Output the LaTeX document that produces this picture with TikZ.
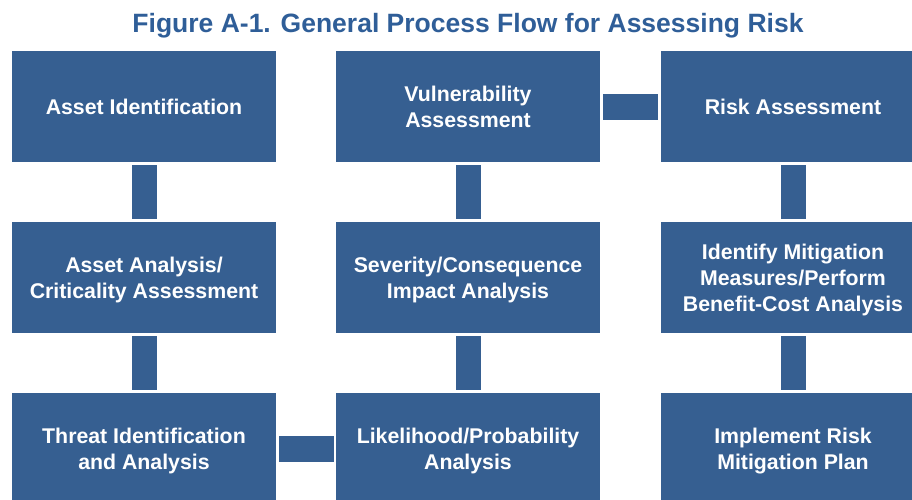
\documentclass[tikz,border=0pt]{standalone}
\usepackage{fontspec}
\setmainfont{Liberation Sans}
\definecolor{boxblue}{HTML}{365F91}
\definecolor{titleblue}{HTML}{2F5E98}
\newcommand\mylowstrut{\rule{0pt}{21pt}}
\begin{document}
\begin{tikzpicture}[x=1pt,y=-1pt,
  stepbox/.style={fill=boxblue,draw=none,minimum width=264pt,minimum height=111pt,
    inner sep=0pt,anchor=center,align=center,text=white,
    font=\bfseries\fontsize{21.3}{26}\selectfont},
  vlink/.style={draw=boxblue,line width=25pt,line cap=butt},
  hlink/.style={draw=boxblue,line width=26pt,line cap=butt}]
\useasboundingbox (0,0) rectangle (912,499);
\clip (0,0) rectangle (912,499);
\node[text=titleblue,font=\bfseries\fontsize{26.5}{30}\selectfont,anchor=center] (title) at (468,25.5) {Figure A-1. General Process Flow for Assessing Risk};
% column 1
\node[stepbox] (a1) at (144,106.5) {Asset Identification};
\node[stepbox] (a2) at (144,277.5) {\mylowstrut Asset Analysis/\\Criticality Assessment};
\node[stepbox] (a3) at (144,448.5) {\mylowstrut Threat Identification\\and Analysis};
% column 2
\node[stepbox] (b1) at (468,106.5) {Vulnerability\\Assessment};
\node[stepbox] (b2) at (468,277.5) {\mylowstrut Severity/Consequence\\Impact Analysis};
\node[stepbox] (b3) at (468,448.5) {\mylowstrut Likelihood/Probability\\Analysis};
% column 3
\node[stepbox] (c1) at (793,106.5) {Risk Assessment};
\node[stepbox] (c2) at (793,277.5) {\mylowstrut Identify Mitigation\\Measures/Perform\\Benefit-Cost Analysis};
\node[stepbox] (c3) at (793,448.5) {\mylowstrut Implement Risk\\Mitigation Plan};
% connectors
\draw[vlink] ([yshift=-3pt]a1.south) -- ([yshift=3pt]a2.north);
\draw[vlink] ([yshift=-3pt]a2.south) -- ([yshift=3pt]a3.north);
\draw[hlink] ([xshift=3pt]a3.east) -- ([xshift=-2pt]b3.west);
\draw[vlink] ([yshift=3pt]b3.north) -- ([yshift=-3pt]b2.south);
\draw[vlink] ([yshift=3pt]b2.north) -- ([yshift=-3pt]b1.south);
\draw[hlink] ([xshift=3pt]b1.east) -- ([xshift=-3pt]c1.west);
\draw[vlink] ([yshift=-3pt]c1.south) -- ([yshift=3pt]c2.north);
\draw[vlink] ([yshift=-3pt]c2.south) -- ([yshift=3pt]c3.north);
\end{tikzpicture}
\end{document}
